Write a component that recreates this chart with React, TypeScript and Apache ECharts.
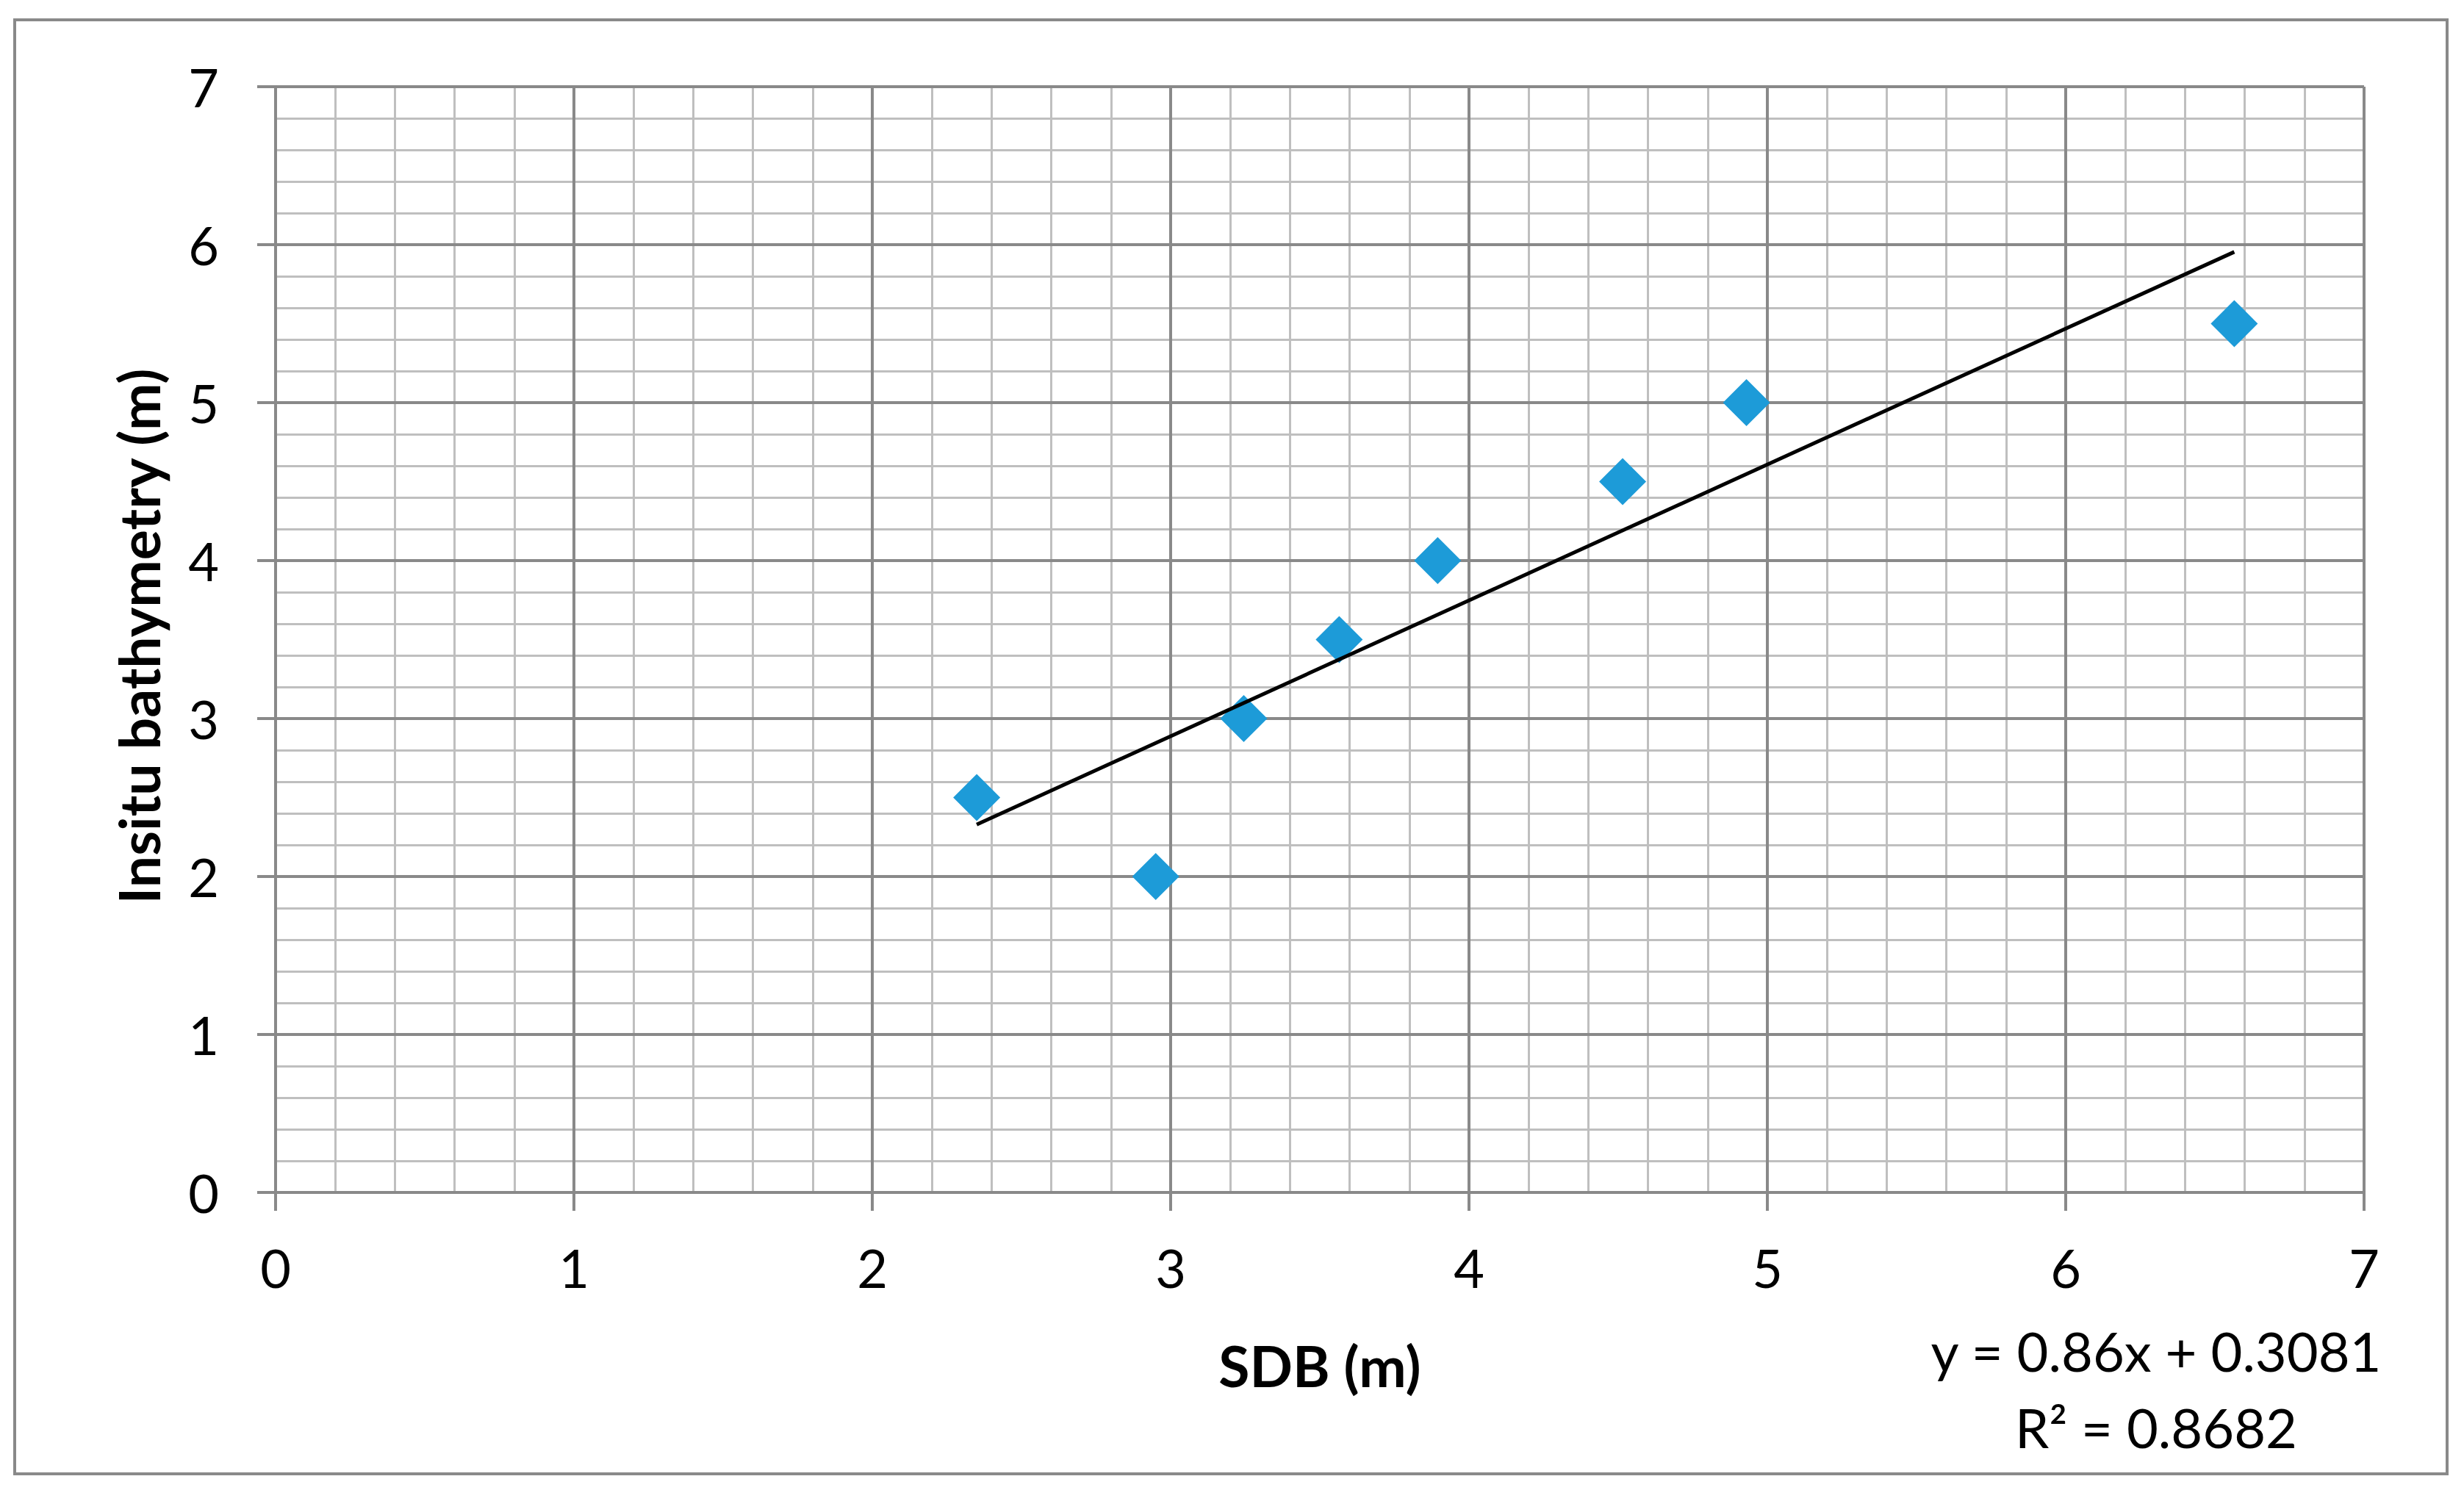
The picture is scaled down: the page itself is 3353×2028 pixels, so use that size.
import React, { useEffect, useRef } from "react";
import * as echarts from "echarts";

// ---- data ----
const sdbValues = [2.35, 2.95, 3.245, 3.565, 3.895, 4.515, 4.93, 6.565];
const insituValues = [2.5, 2.0, 3.0, 3.5, 4.0, 4.5, 5.0, 5.5];
const trendSlope = 0.86;
const trendIntercept = 0.3081;
const equationText = "y = 0.86x + 0.3081";
const r2Text = "R² = 0.8682";
const xAxisTitle = "SDB (m)";
const yAxisTitle = "Insitu bathymetry (m)";
const axisMin = 0;
const axisMax = 7;

const MAJOR = "#898989";
const MINOR = "#bfbfbf";
const MARKER = "#1d9bd8";
const FONT = "Lato, 'Open Sans', sans-serif";

export default function App() {
  const ref = useRef<HTMLDivElement>(null);

  useEffect(() => {
    document.body.style.margin = "0";
    const chart = echarts.init(ref.current!, null, { renderer: "svg" });

    const points = sdbValues.map((x, i) => [x, insituValues[i]]);
    const xMinData = Math.min(...sdbValues);
    const xMaxData = Math.max(...sdbValues);
    const trend = [
      [xMinData, trendSlope * xMinData + trendIntercept],
      [xMaxData, trendSlope * xMaxData + trendIntercept],
    ];

    const minorAxis = (pos: string) => ({
      type: "value",
      position: pos,
      min: axisMin,
      max: axisMax,
      interval: 1,
      z: 0,
      axisLine: { show: false },
      axisTick: { show: false },
      axisLabel: { show: false },
      splitLine: { show: false },
      minorTick: { show: false, splitNumber: 5 },
      minorSplitLine: { show: true, lineStyle: { color: MINOR, width: 3 } },
    });

    const majorAxis = (pos: string, margin: number) => ({
      type: "value",
      position: pos,
      min: axisMin,
      max: axisMax,
      interval: 1,
      z: 2,
      axisLine: { show: true, onZero: false, lineStyle: { color: MAJOR, width: 4 } },
      axisTick: { show: true, inside: false, length: 25, lineStyle: { color: MAJOR, width: 4 } },
      axisLabel: {
        show: true,
        margin,
        color: "#000",
        fontFamily: FONT,
        fontSize: 72,
        showMinLabel: true,
        showMaxLabel: true,
      },
      splitLine: { show: true, lineStyle: { color: MAJOR, width: 4 } },
      minorSplitLine: { show: false },
    });

    chart.setOption({
      animation: false,
      backgroundColor: "#fff",
      grid: {
        left: 375,
        right: 136,
        top: 118,
        bottom: 405,
        outerBoundsMode: "none",
        containLabel: false,
      },
      xAxis: [minorAxis("bottom"), majorAxis("bottom", 66)],
      yAxis: [minorAxis("left"), majorAxis("left", 77)],
      series: [
        {
          type: "scatter",
          xAxisIndex: 1,
          yAxisIndex: 1,
          data: points,
          symbol: "diamond",
          symbolSize: 64,
          itemStyle: { color: MARKER, opacity: 1 },
          z: 3,
        },
        {
          type: "line",
          xAxisIndex: 1,
          yAxisIndex: 1,
          data: trend,
          showSymbol: false,
          symbol: "none",
          lineStyle: { color: "#000", width: 5 },
          z: 4,
        },
      ],
      graphic: [
        {
          type: "rect",
          shape: { x: 20, y: 27, width: 3310, height: 1979 },
          style: { fill: "none", stroke: MAJOR, lineWidth: 4 },
          z: 10,
          silent: true,
        },
        {
          type: "text",
          x: 1796,
          y: 1858,
          style: {
            text: xAxisTitle,
            fontFamily: FONT,
            fontWeight: "bold",
            fontSize: 77,
            fill: "#000",
            align: "center",
            verticalAlign: "middle",
          },
        },
        {
          type: "text",
          x: 188,
          y: 866,
          rotation: Math.PI / 2,
          style: {
            text: yAxisTitle,
            fontFamily: FONT,
            fontWeight: "bold",
            fontSize: 77,
            fill: "#000",
            align: "center",
            verticalAlign: "middle",
          },
        },
        {
          type: "text",
          x: 2934,
          y: 1838,
          style: {
            text: equationText,
            fontFamily: FONT,
            fontSize: 74,
            fill: "#000",
            align: "center",
            verticalAlign: "middle",
          },
        },
        {
          type: "text",
          x: 2934,
          y: 1942,
          style: {
            text: r2Text,
            fontFamily: FONT,
            fontSize: 74,
            fill: "#000",
            align: "center",
            verticalAlign: "middle",
          },
        },
      ],
    });

    return () => chart.dispose();
  }, []);

  return (
    <div
      ref={ref}
      style={{ position: "absolute", left: 0, top: 0, width: 3353, height: 2028 }}
    />
  );
}
